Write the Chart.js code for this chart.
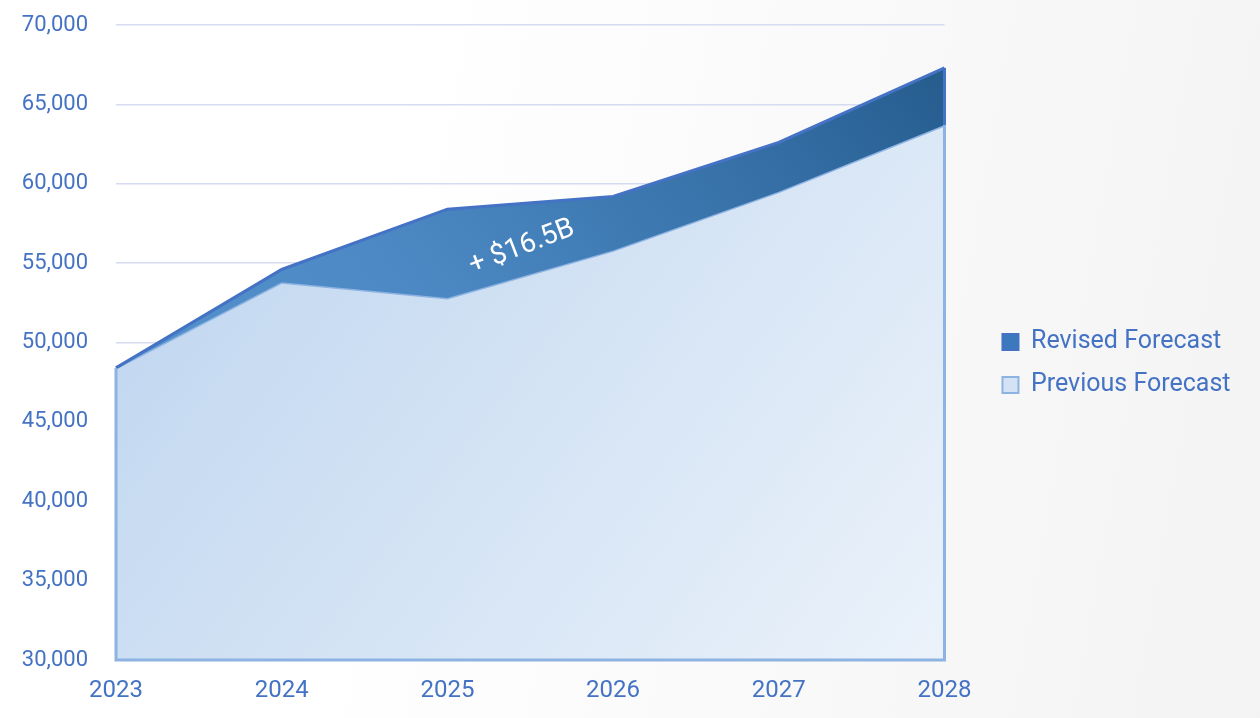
<!DOCTYPE html>
<html>
<head>
<meta charset="utf-8">
<script src="https://cdn.jsdelivr.net/npm/chart.js@4.4.1/dist/chart.umd.min.js"></script>
<style>
  html, body { margin: 0; padding: 0; }
  body {
    width: 1260px; height: 718px; overflow: hidden;
    background: linear-gradient(100deg, #ffffff 0%, #ffffff 30%, #f9f9f9 65%, #f3f3f3 100%);
  }
  #wrap { position: relative; width: 1260px; height: 718px; }
</style>
</head>
<body>
<div id="wrap"><canvas id="chart" width="1260" height="718"></canvas></div>
<script>
// Forecast values, millions of dollars
const years = ['2023', '2024', '2025', '2026', '2027', '2028'];
const revisedForecast = [48400, 54600, 58400, 59200, 62600, 67300];
const previousForecast = [48400, 53800, 52800, 55800, 59500, 63700];
const seriesNames = ['Revised Forecast', 'Previous Forecast'];

// y axis range and step
const yMin = 30000;
const yMax = 70000;
const yStep = 5000;

// callout for the gap between forecasts
const gapLabel = '+ $16.5B';
const gapLabelAt = { x: 2.45, y: 56000 };

const TEXT_BLUE = '#4472c4';
const REVISED_LINE = '#4472c4';
const PREVIOUS_LINE = '#8db3e2';

function revisedFill(ctx) {
  const area = ctx.chart.chartArea;
  if (!area) return '#3f7bbd';
  const g = ctx.chart.ctx.createLinearGradient(area.left, area.bottom, area.right, area.top);
  g.addColorStop(0, '#5a98d2');
  g.addColorStop(0.45, '#4c89c4');
  g.addColorStop(0.8, '#336da3');
  g.addColorStop(1, '#235a8b');
  return g;
}

function previousFill(ctx) {
  const area = ctx.chart.chartArea;
  if (!area) return '#d2e2f5';
  const g = ctx.chart.ctx.createLinearGradient(area.left, area.top, area.right, area.bottom);
  g.addColorStop(0, '#b9d2ee');
  g.addColorStop(1, '#ebf2fa');
  return g;
}

const legendFills = ['#3b78bd', '#d3e3f5'];

// outline on the closed edges of the stacked areas
const edgePlugin = {
  id: 'areaEdges',
  afterDatasetsDraw(chart) {
    const { ctx, scales: { x, y } } = chart;
    const last = years.length - 1;
    const x0 = x.getPixelForValue(0);
    const x1 = x.getPixelForValue(last);
    const yb = y.getPixelForValue(yMin);
    ctx.save();
    ctx.lineJoin = 'miter';
    ctx.lineWidth = 3;
    ctx.strokeStyle = PREVIOUS_LINE;
    ctx.beginPath();
    ctx.moveTo(x0, y.getPixelForValue(previousForecast[0]));
    ctx.lineTo(x0, yb);
    ctx.lineTo(x1, yb);
    ctx.lineTo(x1, y.getPixelForValue(previousForecast[last]));
    ctx.stroke();
    ctx.strokeStyle = REVISED_LINE;
    ctx.beginPath();
    ctx.moveTo(x1, y.getPixelForValue(revisedForecast[last]));
    ctx.lineTo(x1, y.getPixelForValue(previousForecast[last]));
    ctx.stroke();
    ctx.restore();
  }
};

const calloutPlugin = {
  id: 'gapCallout',
  afterDatasetsDraw(chart) {
    const { ctx, scales: { x, y } } = chart;
    ctx.save();
    ctx.translate(x.getPixelForValue(gapLabelAt.x), y.getPixelForValue(gapLabelAt.y));
    ctx.rotate(-21 * Math.PI / 180);
    ctx.font = '28px Roboto';
    ctx.fillStyle = '#ffffff';
    ctx.textAlign = 'center';
    ctx.textBaseline = 'middle';
    ctx.fillText(gapLabel, 0, 0);
    ctx.restore();
  }
};

// lift the legend block slightly above the canvas midline
const legendLift = {
  id: 'legendLift',
  afterLayout(chart) {
    if (chart.legend) {
      chart.legend.top -= 8;
      chart.legend.bottom -= 8;
    }
  }
};

function noEdgePadding(scale) {
  scale.paddingTop = 0;
  scale.paddingBottom = 0;
}

new Chart(document.getElementById('chart'), {
  type: 'line',
  data: {
    labels: years,
    datasets: [
      {
        label: seriesNames[0],
        data: revisedForecast,
        borderColor: REVISED_LINE,
        borderWidth: 3,
        backgroundColor: revisedFill,
        fill: '+1',
        pointRadius: 0,
        tension: 0
      },
      {
        label: seriesNames[1],
        data: previousForecast,
        borderColor: PREVIOUS_LINE,
        borderWidth: 3,
        backgroundColor: previousFill,
        fill: 'start',
        pointRadius: 0,
        tension: 0
      }
    ]
  },
  options: {
    responsive: false,
    animation: false,
    layout: { padding: { left: 22, right: 19.5, top: 25, bottom: 0 } },
    scales: {
      x: {
        offset: false,
        grid: { display: false },
        border: { display: false },
        ticks: { color: TEXT_BLUE, font: { family: 'Roboto', size: 24 }, padding: 9, maxRotation: 0 },
        afterFit(scale) { scale.height = 58; }
      },
      y: {
        min: yMin,
        max: yMax,
        grid: { color: '#d6dbf1', lineWidth: 1.5, drawTicks: false },
        border: { display: false },
        ticks: {
          stepSize: yStep,
          color: TEXT_BLUE,
          font: { family: 'Roboto', size: 22 },
          padding: 28,
          callback: v => v.toLocaleString('en-US')
        },
        afterFit(scale) { scale.width = 94; noEdgePadding(scale); }
      },
      legendGap: {
        position: 'right',
        display: true,
        grid: { display: false },
        border: { display: false },
        ticks: { display: false },
        afterFit(scale) { scale.width = 40; noEdgePadding(scale); }
      }
    },
    plugins: {
      tooltip: { enabled: false },
      legend: {
        position: 'right',
        align: 'center',
        maxWidth: 280,
        labels: {
          boxWidth: 16,
          boxHeight: 16,
          padding: 18,
          color: TEXT_BLUE,
          font: { family: 'Roboto', size: 25 },
          generateLabels: chart => chart.data.datasets.map((ds, i) => ({
            text: ds.label,
            fillStyle: legendFills[i],
            strokeStyle: ds.borderColor,
            lineWidth: 2,
            fontColor: TEXT_BLUE,
            hidden: false,
            datasetIndex: i
          }))
        }
      }
    }
  },
  plugins: [edgePlugin, calloutPlugin, legendLift]
});
</script>
</body>
</html>
